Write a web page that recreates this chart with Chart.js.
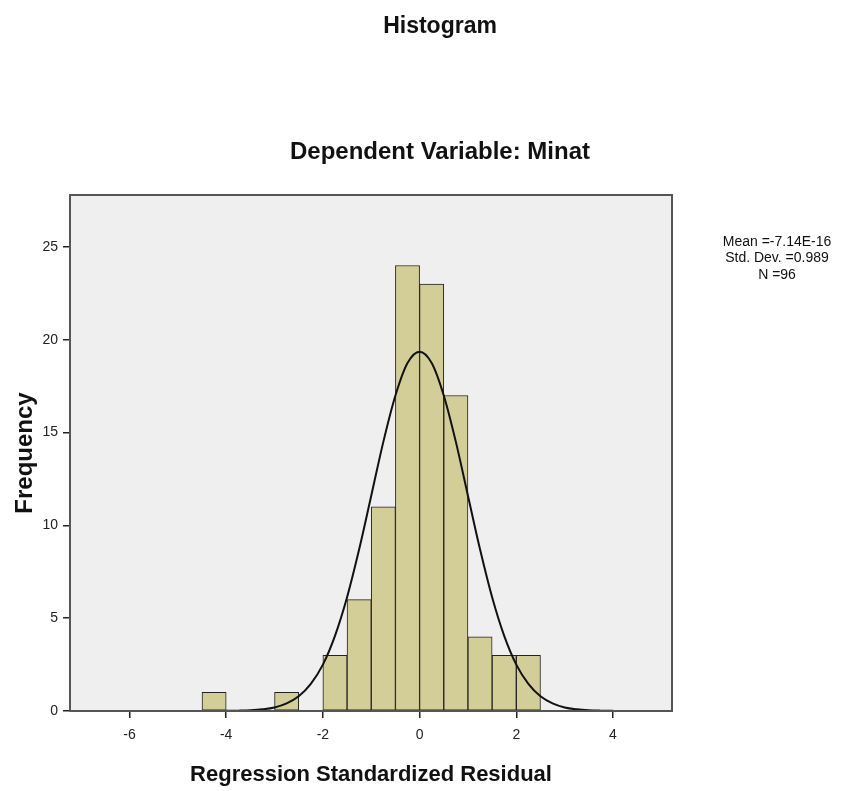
<!DOCTYPE html>
<html lang="en">
<head>
<meta charset="utf-8">
<title>Histogram</title>
<script src="https://cdn.jsdelivr.net/npm/chart.js@4.4.1/dist/chart.umd.min.js"></script>
<style>
    html, body { margin: 0; padding: 0; background: #ffffff; }
    #wrap { position: relative; width: 843px; height: 791px; }
</style>
</head>
<body>
<div id="wrap"><canvas id="histChart" width="843" height="791"></canvas></div>
<script>
// Histogram of regression residuals (SPSS style)

// Bin centres (width 0.5) and frequencies
const binCenters = [-4.25, -3.75, -3.25, -2.75, -2.25, -1.75, -1.25, -0.75, -0.25, 0.25, 0.75, 1.25, 1.75, 2.25];
const frequencies = [1, 0, 0, 1, 0, 3, 6, 11, 24, 23, 17, 4, 3, 3];

// Normal curve
const curveX = [-4, -3.75, -3.5, -3.25, -3, -2.75, -2.5, -2.25, -2, -1.75, -1.5, -1.25, -1, -0.75, -0.5, -0.25, 0,
                0.25, 0.5, 0.75, 1, 1.25, 1.5, 1.75, 2, 2.25, 2.5, 2.75, 3, 3.25, 3.5, 3.75, 4];
const curveY = [0.01, 0.02, 0.04, 0.09, 0.19, 0.41, 0.79, 1.46, 2.5, 4.05, 6.13, 8.71, 11.6, 14.5, 17.0, 18.75, 19.36,
                18.75, 17.0, 14.5, 11.6, 8.71, 6.13, 4.05, 2.5, 1.46, 0.79, 0.41, 0.19, 0.09, 0.04, 0.02, 0.01];

// Tick labels
const xTicks = [-6, -4, -2, 0, 2, 4];
const yTicks = [0, 5, 10, 15, 20, 25];

const statsLines = ['Mean =-7.14E-16', 'Std. Dev. =0.989', 'N =96'];

Chart.defaults.font.family = '"Liberation Sans", Arial, sans-serif';
Chart.defaults.color = '#222';

// Fondo gris del área de trazado y textos fijos
const spssFrame = {
    id: 'spssFrame',
    beforeDraw(chart) {
        const {ctx, chartArea: a} = chart;
        ctx.save();
        ctx.fillStyle = '#efefef';
        ctx.fillRect(a.left, a.top, a.right - a.left, a.bottom - a.top);
        ctx.restore();
    },
    afterDraw(chart) {
        const {ctx, chartArea: a} = chart;
        ctx.save();
        ctx.strokeStyle = '#555';
        ctx.lineWidth = 2;
        ctx.strokeRect(a.left, a.top, a.right - a.left, a.bottom - a.top);

        ctx.fillStyle = '#111';
        ctx.textAlign = 'center';
        ctx.textBaseline = 'middle';
        ctx.font = 'bold 23px "Liberation Sans", Arial, sans-serif';
        ctx.fillText('Histogram', 440, 27);
        ctx.font = 'bold 24px "Liberation Sans", Arial, sans-serif';
        ctx.fillText('Dependent Variable: Minat', 440, 152);

        ctx.font = '14px "Liberation Sans", Arial, sans-serif';
        statsLines.forEach((line, i) => {
            ctx.fillText(line, 777, 242 + i * 16.5);
        });
        ctx.restore();
    }
};

document.addEventListener('DOMContentLoaded', function() {
    initializeChart();
});

function initializeChart() {
    const ctx = document.getElementById('histChart');

    new Chart(ctx, {
        type: 'bar',
        data: {
            datasets: [{
                type: 'line',
                label: 'Normal',
                data: curveX.map((x, i) => ({x: x, y: curveY[i]})),
                borderColor: '#111',
                borderWidth: 2,
                pointRadius: 0,
                fill: false,
                cubicInterpolationMode: 'monotone',
                order: 1
            }, {
                label: 'Frequency',
                data: binCenters.map((x, i) => ({x: x, y: frequencies[i]})),
                backgroundColor: '#d3ce97',
                borderColor: '#222',
                borderWidth: 1,
                borderSkipped: false,
                barPercentage: 1,
                categoryPercentage: 1,
                order: 2
            }]
        },
        options: {
            responsive: false,
            animation: false,
            layout: {
                padding: {top: 195, right: 171, left: 0, bottom: 0}
            },
            plugins: {
                legend: {display: false},
                tooltip: {enabled: false},
                title: {display: false}
            },
            scales: {
                x: {
                    type: 'linear',
                    min: -7.23,
                    max: 5.22,
                    offset: false,
                    afterBuildTicks: scale => { scale.ticks = xTicks.map(v => ({value: v})); },
                    afterFit: scale => { scale.height = 80; },
                    grid: {offset: false, drawOnChartArea: false, drawTicks: true, tickLength: 7, color: '#222', lineWidth: 1.5},
                    border: {display: true, color: '#222', width: 1.5},
                    ticks: {font: {size: 14}, padding: 9, maxRotation: 0, color: '#222'},
                    title: {
                        display: true,
                        text: 'Regression Standardized Residual',
                        font: {size: 22, weight: 'bold'},
                        color: '#111',
                        padding: {top: 0, bottom: 3}
                    }
                },
                y: {
                    min: 0,
                    max: 27.8,
                    afterBuildTicks: scale => { scale.ticks = yTicks.map(v => ({value: v})); },
                    afterFit: scale => { scale.width = 70; },
                    grid: {drawOnChartArea: false, drawTicks: true, tickLength: 7, color: '#222', lineWidth: 1.5},
                    border: {display: true, color: '#222', width: 1.5},
                    ticks: {font: {size: 14}, padding: 5, color: '#222'},
                    title: {
                        display: true,
                        text: 'Frequency',
                        font: {size: 24, weight: 'bold'},
                        color: '#111',
                        padding: {top: 11, bottom: 0}
                    }
                }
            }
        },
        plugins: [spssFrame]
    });
}
</script>
</body>
</html>
